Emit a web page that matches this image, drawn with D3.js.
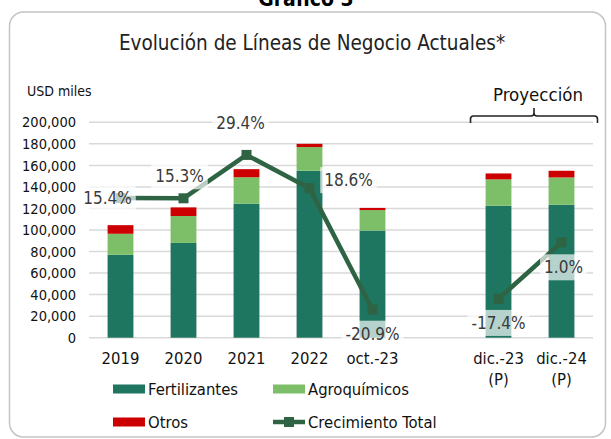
<!DOCTYPE html>
<html><head><meta charset="utf-8">
<script src="https://cdn.jsdelivr.net/npm/d3@7"></script>
<style>
body{margin:0;background:#fff;}
svg text{font-family:"DejaVu Sans Condensed","DejaVu Sans",sans-serif;}
</style></head>
<body><svg id="c" width="611" height="439"></svg>
<script>
const categories = ["2019","2020","2021","2022","oct.-23","","dic.-23","dic.-24"];
const subLabels  = ["","","","","","","(P)","(P)"];
const fertilizantes = [77000, 88000, 124500, 155000, 99500, null, 122500, 123500];
const agroquimicos  = [19500, 25000, 24500, 22000, 19000, null, 24500, 25300];
const otros         = [8000, 8000, 7500, 3000, 2000, null, 5500, 6200];
const crecimiento   = [15.4, 15.3, 29.4, 18.6, -20.9, null, -17.4, 1.0];
const yTicks = [0,20000,40000,60000,80000,100000,120000,140000,160000,180000,200000];
const seriesNames = ["Fertilizantes","Agroquímicos","Otros"];
const colors = {Fertilizantes:"#1e7560", "Agroquímicos":"#7dbe68", Otros:"#cc0000", line:"#2e6444"};
// label offsets (layout) relative to each point
const labelOffsets = [[-13,0],[-4,-22],[-6,-32],[39,-8],[0,24],null,[0,24],[2,25]];

const svg = d3.select("#c");
const pLeft=89, pRight=593, pTop=122.3, pBottom=337.7;

// frame
svg.append("rect").attr("x",9.5).attr("y",12).attr("width",596).attr("height",425)
  .attr("rx",14).attr("fill","none").attr("stroke","#c4c4c4").attr("stroke-width",1.5);
svg.append("text").attr("x",306).attr("y",6).attr("text-anchor","middle")
  .attr("font-size",21).attr("font-weight","bold").attr("fill","#000").text("Gráfico 3");
svg.append("text").attr("x",312).attr("y",50).attr("text-anchor","middle")
  .attr("font-size",20.5).attr("fill","#222").text("Evolución de Líneas de Negocio Actuales*");
svg.append("text").attr("x",27).attr("y",96)
  .attr("font-size",14).attr("fill","#111").attr("font-weight","500").text("USD miles");

const x = d3.scaleBand().domain(d3.range(categories.length)).range([pLeft,pRight])
  .paddingInner(0.59).paddingOuter(0.295);
const y = d3.scaleLinear().domain([0,200000]).range([pBottom,pTop]);
const y2 = d3.scaleLinear().domain([-30,40]).range([pBottom,pTop]);

// grid
svg.append("g").selectAll("line").data(yTicks).join("line")
  .attr("x1",pLeft).attr("x2",pRight).attr("y1",d=>y(d)).attr("y2",d=>y(d))
  .attr("stroke","#d9d9d9").attr("stroke-width",1.5);

// y axis labels
const yAxis = d3.axisLeft(y).tickValues(yTicks).tickSize(0).tickPadding(0)
  .tickFormat(d3.format(","));
const ya = svg.append("g").attr("transform",`translate(76,0)`).call(yAxis);
ya.select(".domain").remove();
ya.selectAll("text").attr("font-size",14.5).attr("fill","#111")
  .style("font-family",'"DejaVu Sans Condensed","DejaVu Sans",sans-serif');

// stacked bars
const rows = categories.map((c,i)=>({i, Fertilizantes:fertilizantes[i]||0, "Agroquímicos":agroquimicos[i]||0, Otros:otros[i]||0}));
const stack = d3.stack().keys(seriesNames)(rows);
svg.append("g").selectAll("g").data(stack).join("g").attr("fill",d=>colors[d.key])
  .selectAll("rect").data(d=>d.filter(p=>p[1]>p[0])).join("rect")
  .attr("x",d=>x(d.data.i)).attr("width",x.bandwidth())
  .attr("y",d=>y(d[1])).attr("height",d=>y(d[0])-y(d[1]));

// x labels
const xg = svg.append("g");
categories.forEach((c,i)=>{
  const cx = x(i)+x.bandwidth()/2;
  xg.append("text").attr("x",cx).attr("y",364).attr("text-anchor","middle")
    .attr("font-size",16.5).attr("fill","#111").text(c);
  if(subLabels[i]) xg.append("text").attr("x",cx).attr("y",385).attr("text-anchor","middle")
    .attr("font-size",16.5).attr("fill","#111").text(subLabels[i]);
});

// line
const pts = crecimiento.map((v,i)=>({i,v}));
const line = d3.line().defined(d=>d.v!==null).x(d=>x(d.i)+x.bandwidth()/2).y(d=>y2(d.v));
svg.append("path").datum(pts).attr("d",line).attr("fill","none")
  .attr("stroke",colors.line).attr("stroke-width",4.5).attr("stroke-linejoin","round");
const vpts = pts.filter(d=>d.v!==null);
svg.append("g").selectAll("rect").data(vpts).join("rect")
  .attr("x",d=>x(d.i)+x.bandwidth()/2-5).attr("y",d=>y2(d.v)-5)
  .attr("width",10).attr("height",10).attr("fill",colors.line);

// data labels
const lg = svg.append("g");
vpts.forEach(d=>{
  const o = labelOffsets[d.i];
  const cx = x(d.i)+x.bandwidth()/2 + o[0], cy = y2(d.v)+o[1];
  const t = lg.append("text").attr("x",cx).attr("y",cy+6).attr("text-anchor","middle")
    .attr("font-size",17).attr("fill","#3a3a3a").text(d3.format(".1f")(d.v).replace("\u2212","-")+"%");
  const bb = t.node().getBBox();
  lg.insert("rect","text").attr("x",bb.x-4).attr("y",cy-13).attr("width",bb.width+8).attr("height",26)
    .attr("fill","#fff").attr("fill-opacity",0.68);
});
lg.selectAll("text").raise();

// Proyección brace
svg.append("text").attr("x",538).attr("y",101).attr("text-anchor","middle")
  .attr("font-size",18.5).attr("fill","#111").text("Proyección");
svg.append("path").attr("d","M470.5,123 L470.5,119 Q470.5,116 473.5,116 L531,116 Q534,116 534,113 L534,108 L534,113 Q534,116 537,116 L594.5,116 Q597.5,116 597.5,119 L597.5,123")
  .attr("fill","none").attr("stroke","#222").attr("stroke-width",1.6);

// legend
const leg = svg.append("g");
const legItems = [
  {name:"Fertilizantes", type:"rect", x:113, y:389},
  {name:"Agroquímicos", type:"rect", x:273, y:389},
  {name:"Otros", type:"rect", x:113, y:422},
  {name:"Crecimiento Total", type:"line", x:273, y:422}
];
legItems.forEach(it=>{
  if(it.type==="rect"){
    leg.append("rect").attr("x",it.x).attr("y",it.y-4.5).attr("width",32).attr("height",9).attr("fill",colors[it.name]);
  } else {
    leg.append("line").attr("x1",it.x).attr("x2",it.x+32).attr("y1",it.y).attr("y2",it.y)
      .attr("stroke",colors.line).attr("stroke-width",4.5);
    leg.append("rect").attr("x",it.x+11).attr("y",it.y-5).attr("width",10).attr("height",10).attr("fill",colors.line);
  }
  leg.append("text").attr("x",it.x+35).attr("y",it.y+6).attr("font-size",16.5).attr("fill","#111").text(it.name);
});
</script></body></html>
